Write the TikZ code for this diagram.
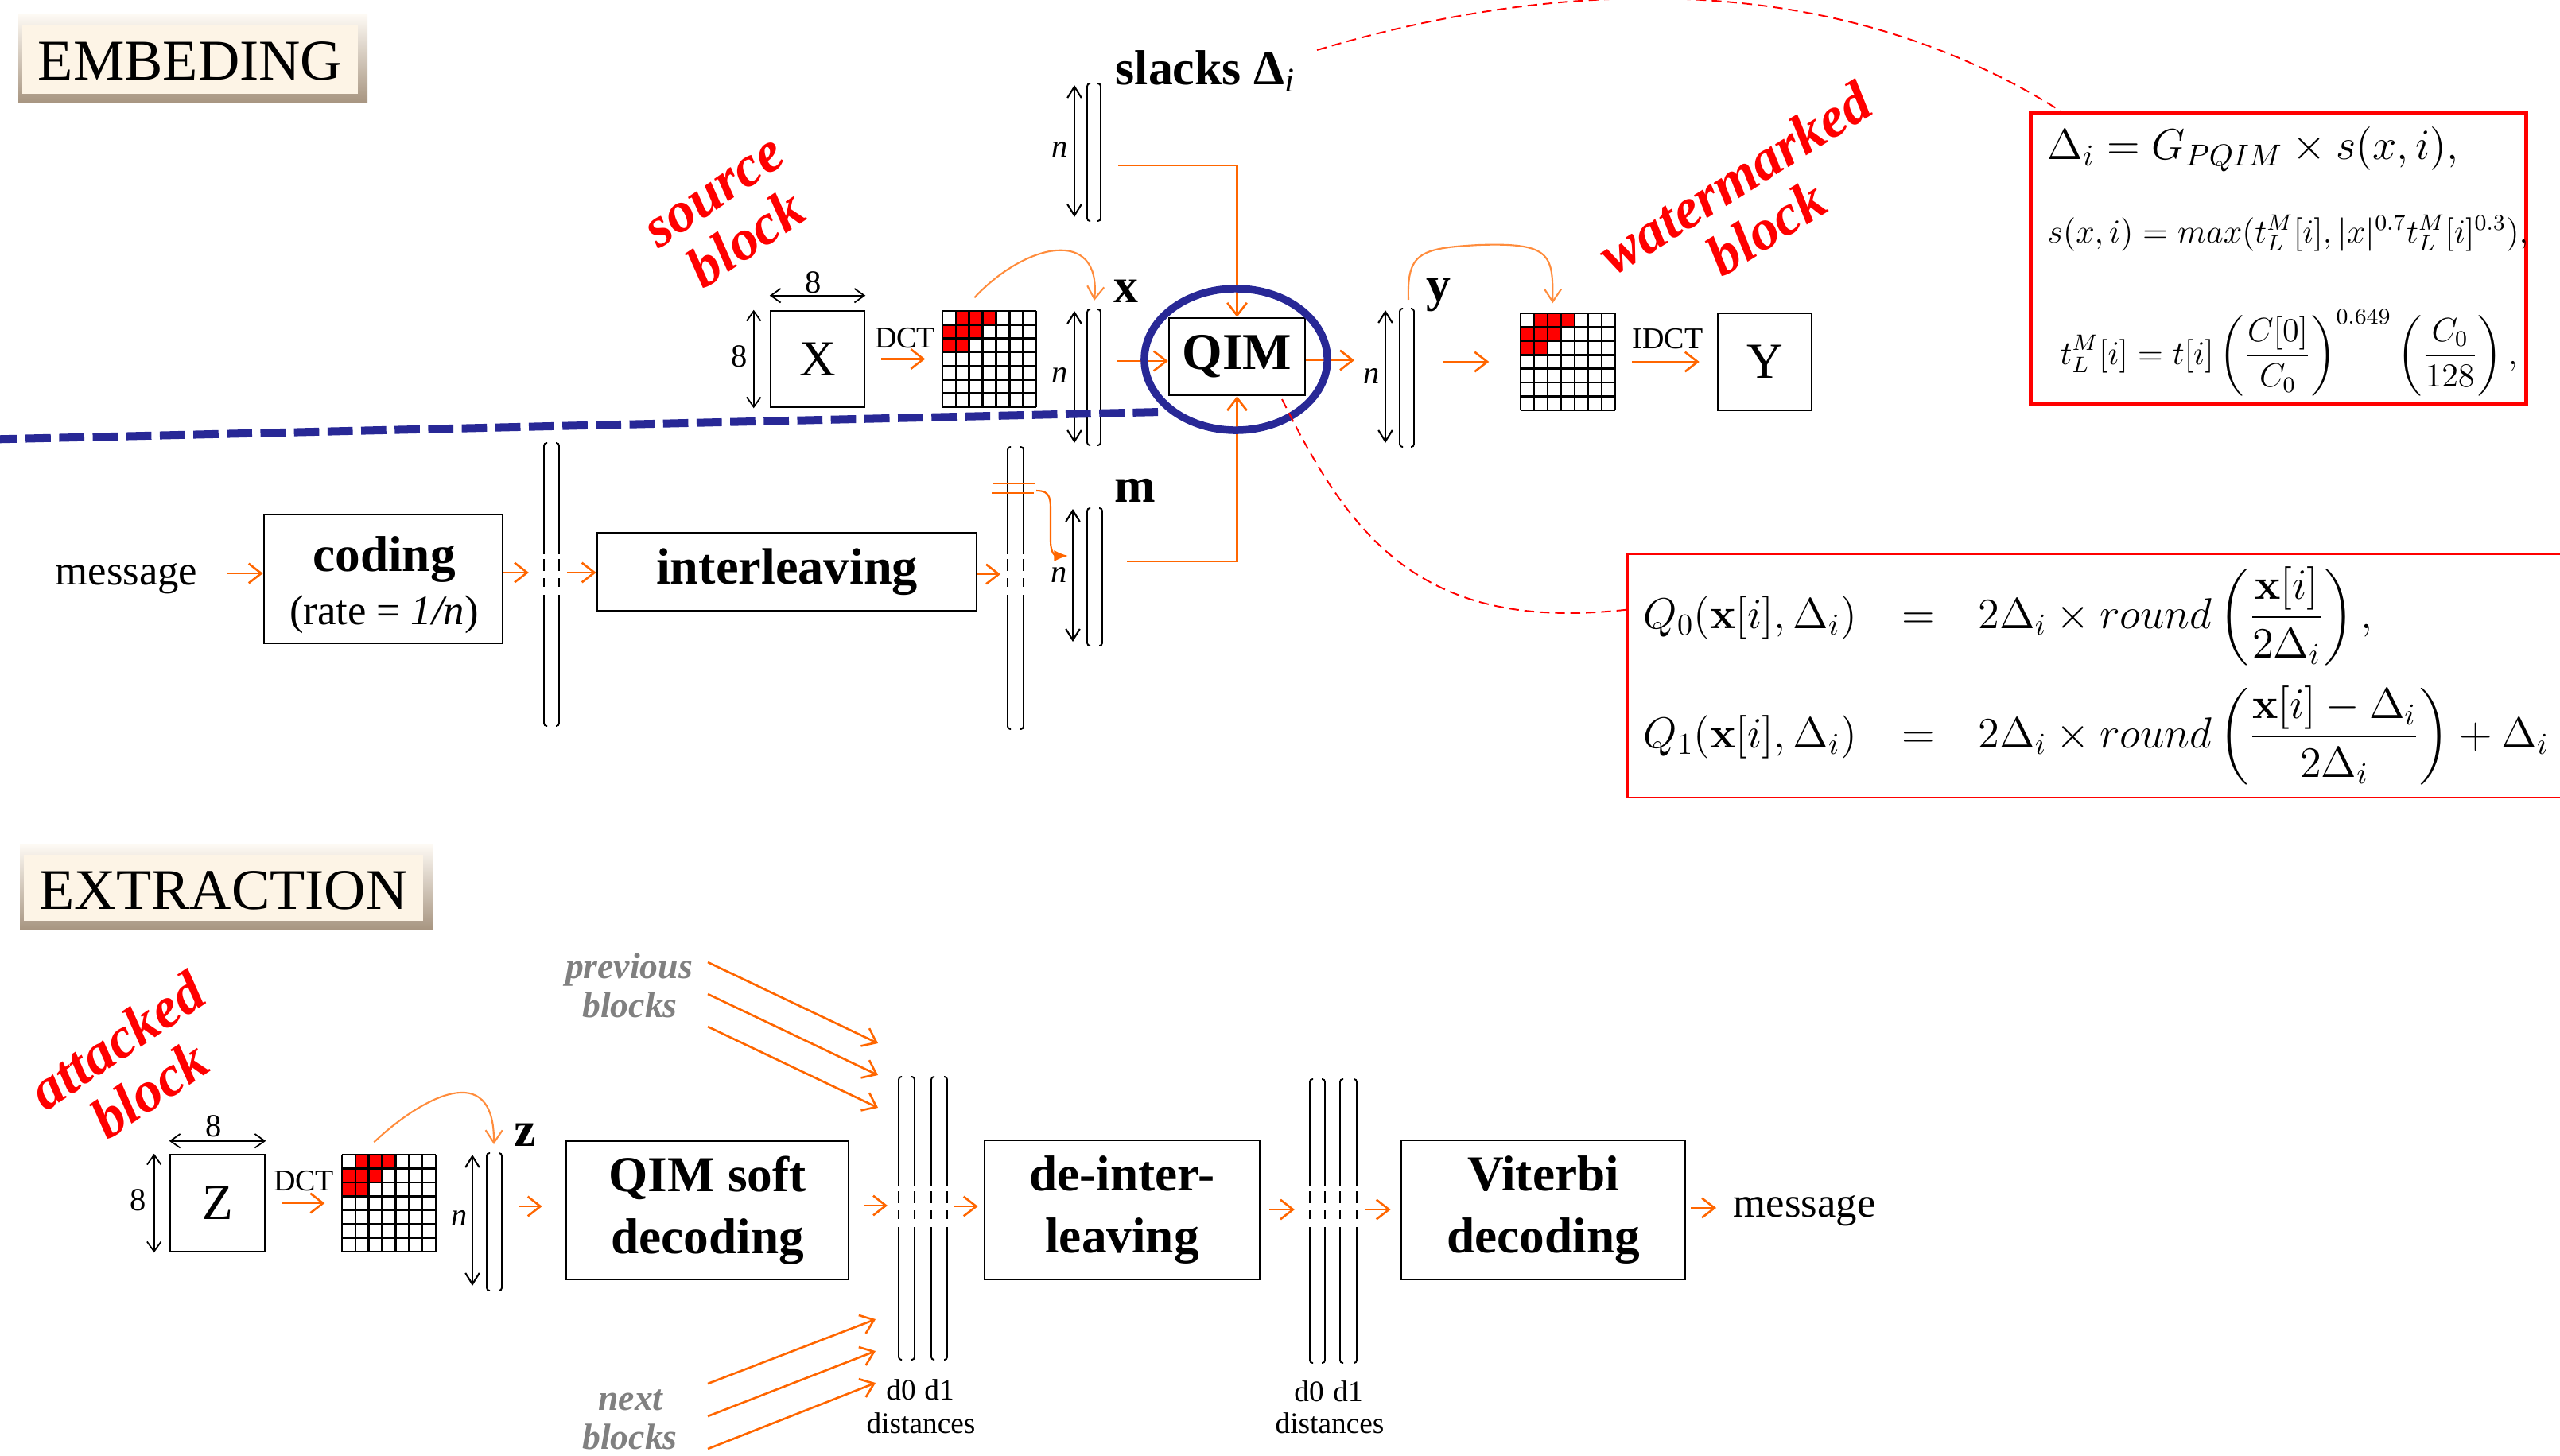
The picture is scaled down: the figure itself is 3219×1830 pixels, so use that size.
\RequirePackage{fix-cm}
\documentclass[tikz,border=0pt]{standalone}
\usepackage{amsmath}
\usepackage[no-math]{fontspec}
\setmainfont{Liberation Serif}
\usetikzlibrary{arrows.meta,fit,calc,shapes.geometric}
\definecolor{org}{RGB}{255,102,0}
\definecolor{lorg}{RGB}{255,140,60}
\definecolor{navyc}{RGB}{40,40,150}
\definecolor{beigec}{RGB}{253,244,230}
\definecolor{tanc}{RGB}{168,150,130}
\definecolor{gtxt}{RGB}{128,128,128}
\newcommand\fsz[2]{\fontsize{#1}{#2}\selectfont}
\tikzset{
  oarr/.style={draw=org, line width=0.75pt, -{Straight Barb[length=4.5pt,width=7pt]}},
  carr/.style={draw=lorg, line width=0.6pt, -{Straight Barb[length=4.5pt,width=6pt]}},
  dimarr/.style={draw=black, line width=0.5pt, {Straight Barb[length=3.5pt,width=5pt]}-{Straight Barb[length=3.5pt,width=5pt]}},
  narr/.style={draw=black, line width=0.6pt, {Straight Barb[length=4pt,width=5pt]}-{Straight Barb[length=4pt,width=5pt]}},
  blk/.style={draw=black, line width=0.7pt, inner sep=0pt},
  bkt/.style={draw=black, line width=0.55pt, rounded corners=1pt},
  gridl/.style={draw=black, line width=0.75pt},
  rdash/.style={draw=red, line width=0.55pt, dash pattern=on 3.5pt off 2pt},
  lbl/.style={inner sep=0pt},
  nlbl/.style={inner sep=0pt, font=\itshape\fsz{11.5}{13}},
  eightl/.style={inner sep=0pt, font=\fsz{11.5}{13}},
  dctl/.style={inner sep=0pt, font=\fsz{10.8}{12}},
  vecl/.style={inner sep=0pt, anchor=base, font=\bfseries\fsz{17.6}{20}},
  redl/.style={inner sep=0pt, align=center, text=red, font=\bfseries\itshape\fsz{20.5}{21}},
  procbox/.style={blk, align=center, font=\bfseries\fsz{18}{22.2}},
  blocksl/.style={inner sep=0pt, anchor=base, text=gtxt, font=\bfseries\itshape\fsz{13}{14}},
  distl/.style={inner sep=0pt, anchor=base, font=\fsz{10.6}{12}},
}
\newcommand\bktpair[4]{%
  \draw[bkt] ({#1+4},#3) -- (#1,#3) -- (#1,#4) -- ({#1+4},#4);
  \draw[bkt] ({#2-4},#3) -- (#2,#3) -- (#2,#4) -- ({#2-4},#4);}
\newcommand\bktgaps[2]{%
  \foreach \ga/\gb in {-26/-20,-5/4,15/25}{\draw[white, line width=1.8pt] (#1,{#2+(\ga)}) -- (#1,{#2+(\gb)});}}
\newcommand\dctgrid[5]{%
  \pgfmathsetmacro\dgw{(#4-#2)/7}%
  \pgfmathsetmacro\dgh{(#5-#3)/7}%
  \foreach \dgc/\dgr in {1/0,2/0,3/0,0/1,1/1,2/1,0/2,1/2}{%
    \fill[red] ({#2+\dgc*\dgw},{#3+\dgr*\dgh}) rectangle ({#2+(\dgc+1)*\dgw},{#3+(\dgr+1)*\dgh});}
  \foreach \dgi in {0,...,7}{%
    \draw[gridl] ({#2+\dgi*\dgw},#3) -- ({#2+\dgi*\dgw},#5);
    \draw[gridl] (#2,{#3+\dgi*\dgh}) -- (#4,{#3+\dgi*\dgh});}
  \node[fit={(#2,#3) (#4,#5)}, inner sep=0pt] (#1) {};}
\begin{document}
\begin{tikzpicture}[x=0.01cm,y=-0.01cm]
\useasboundingbox (0,0) rectangle (3219,1830);

% ---------- title boxes
\shade[top color=beigec!40!white, bottom color=tanc] (23,17) rectangle (462,128);
\fill[beigec] (28,31) rectangle (450,118);
\node[lbl, anchor=base, font=\fsz{20.6}{24}] (embed) at (239,100) {EMBEDING};
\shade[top color=beigec!40!white, bottom color=tanc] (25,1061) rectangle (544,1168);
\fill[beigec] (30,1075) rectangle (532,1158);
\node[lbl, anchor=base, font=\fsz{20.6}{24}] (extract) at (281,1143) {EXTRACTION};

% ---------- red labels
\node[redl, rotate=34] (srcb) at (921,275) {source\\block};
\node[redl, rotate=32] (wmb) at (2201,255) {watermarked\\block};
\node[redl, rotate=34] (attb) at (167,1339) {attacked\\block};

% ---------- source block X
\node[blk, minimum width=1.18cm, minimum height=1.21cm, font=\fsz{18}{20}] (X) at (1028,451.5) {X};
\draw[dimarr] ([xshift=-0.2cm]X.north west) -- ([xshift=-0.2cm]X.south west);
\node[eightl] (x8l) at (930,448) {8};
\draw[dimarr] ([yshift=0.18cm]X.north west) -- ([yshift=0.18cm]X.north east);
\node[eightl] (x8t) at (1023,355) {8};
\dctgrid{g1}{1185}{391}{1303}{512}
\draw[oarr, shorten <=0.2cm, shorten >=0.21cm] (X) -- (g1);
\node[dctl] (dct1) at (1138,425) {DCT};

% ---------- slacks vector
\draw[narr] (1351,107) -- (1351,273);
\bktpair{1367}{1384}{105}{278}
\node[nlbl] (sn) at (1333,188) {n};
\node[vecl, anchor=base west] (slk) at (1402,106) {slacks Δ\textsubscript{\normalfont\itshape i}};
\coordinate (svout) at (1406,208);

% ---------- x vector
\draw[narr] (1351,391) -- (1351,557);
\bktpair{1367}{1384}{389}{560}
\node[nlbl] (xn) at (1333,472) {n};
\node[vecl] (xl) at (1416,380) {x};
\coordinate (xvin) at (1376,378);
\coordinate (xvout) at (1404,454);
\draw[carr] ($(g1.north west)+(41,-16)$) .. controls (1290,305) and (1385,285) .. (xvin);

% ---------- QIM
\node[blk, minimum width=1.71cm, minimum height=0.97cm, font=\bfseries\fsz{18.5}{20}] (QIM) at (1555.5,448.5) {QIM};
\draw[oarr] (svout) -| (QIM.north);
\draw[oarr] (xvout) -- (xvout -| QIM.west);

% ---------- m vector
\draw[narr] (1349,640) -- (1349,807);
\bktpair{1367}{1386}{639}{812}
\node[nlbl] (mn) at (1332,723) {n};
\node[vecl] (ml) at (1427,631) {m};
\coordinate (mvout) at (1417,706);
\coordinate (mvin) at (1343,699);
\draw[oarr] (mvout) -| (QIM.south);

% ---------- y vector
\coordinate (yvin) at (1703,453);
\draw[oarr] (QIM.east |- yvin) -- (yvin);
\draw[narr] (1742,390) -- (1742,557);
\bktpair{1760}{1778}{388}{562}
\node[nlbl] (yn) at (1725,473) {n};
\node[vecl] (yl) at (1809,378) {y};
\coordinate (yvout) at (1815,455);
\coordinate (yvtop) at (1771,377);
\dctgrid{g2}{1912}{394}{2031}{516}
\draw[oarr, shorten >=0.39cm] (yvout) -- (yvout -| g2.west);
\draw[carr] (yvtop) .. controls (1769,318) and (1785,312) .. (1860,308) .. controls (1950,305) and (1953,320) .. ($(g2.north west)+(41,-12)$);
\node[blk, minimum width=1.18cm, minimum height=1.22cm, font=\fsz{18}{20}] (Y) at (2219,455) {Y};
\draw[oarr, shorten <=0.2cm, shorten >=0.22cm] (g2) -- (Y);
\node[dctl] (idct) at (2097,426) {IDCT};

% ---------- coding / interleaving
\node[lbl, anchor=base west, font=\fsz{15}{17}] (msg1) at (69,735) {message};
\node[blk, minimum width=3.00cm, minimum height=1.62cm] (coding) at (482,728) {};
\node[lbl, anchor=base, font=\bfseries\fsz{18}{20}] (codingt) at (483,718) {coding};
\node[lbl, anchor=base, font=\fsz{15}{17}] (ratet) at (483,785) {(rate = \textit{1/n})};
\coordinate (c1) at (285,721);
\draw[oarr] (c1) -- (c1 -| coding.west);
\bktpair{684}{703}{557}{913}
\bktgaps{684}{723}\bktgaps{703}{723}
\coordinate (b1in) at (665,720);
\coordinate (b1out) at (713,720);
\draw[oarr] (coding.east |- b1in) -- (b1in);
\node[blk, minimum width=4.77cm, minimum height=0.98cm, font=\bfseries\fsz{18.3}{20}] (inter) at (989.5,719) {interleaving};
\draw[oarr] (b1out) -- (b1out -| inter.west);
\coordinate (b2in) at (1258,722);
\draw[oarr] (inter.east |- b2in) -- (b2in);
\bktpair{1267}{1287}{562}{917}
\bktgaps{1267}{723}\bktgaps{1287}{723}
\draw[org, line width=0.75pt] (1249,608) -- (1302,608);
\draw[org, line width=0.75pt] (1247,620) -- (1300,620);
\coordinate (eqs) at (1303,617);
\draw[org, line width=0.6pt, -{Latex[length=5pt,width=4pt]}] (eqs) .. controls (1322,617) and (1321,628) .. (1321,648) -- (1321,680) .. controls (1321,697) and (1328,699) .. (mvin);

% ---------- blue separator and ring
\coordinate (bl0) at (-10,552.5);
\coordinate (bl1) at (1460,518);
\draw[navyc, line width=2.85pt, dash pattern=on 9pt off 3pt] (bl0) -- (bl1);
\node[draw=navyc, line width=2.7pt, ellipse, minimum width=2.30cm, minimum height=1.78cm, inner sep=0pt] (ring) at (1554,452) {};

% ---------- formula box 1
\node[draw=red, line width=1.4pt, minimum width=6.22cm, minimum height=3.64cm, inner sep=0pt] (eqb1) at (2865,325) {};
\node[lbl, anchor=base west, font=\fsz{15.5}{18}] (f1) at (2574,200) {$\Delta_i = G_{PQIM}\times s(x,i),$};
\node[lbl, anchor=base west, font=\fsz{12}{14}] (f2) at (2574,305) {$s(x,i) = max(t_L^M[i], |x|^{0.7} t_L^M[i]^{0.3}),$};
\node[lbl, anchor=base west, font=\fsz{12}{14}] (f3) at (2590,458) {$\displaystyle t_L^M[i] = t[i]\left(\frac{C[0]}{C_0}\right)^{0.649}\left(\frac{C_0}{128}\right),$};

% ---------- formula box 2
\node[draw=red, line width=0.7pt, minimum width=12.53cm, minimum height=3.06cm, inner sep=0pt] (eqb2) at (2673.5,850) {};
\node[lbl, anchor=base west, font=\fsz{15.5}{18}] (q0l) at (2066,790) {$Q_0(\mathbf{x}[i],\Delta_i)$};
\node[lbl, anchor=base, font=\fsz{15.5}{18}] (q0e) at (2412,790) {$=$};
\node[lbl, anchor=base west, font=\fsz{15.5}{18}] (q0r) at (2487,790) {$2\Delta_i\times round\left(\dfrac{\mathbf{x}[i]}{2\Delta_i}\right),$};
\node[lbl, anchor=base west, font=\fsz{15.5}{18}] (q1l) at (2066,940) {$Q_1(\mathbf{x}[i],\Delta_i)$};
\node[lbl, anchor=base, font=\fsz{15.5}{18}] (q1e) at (2412,940) {$=$};
\node[lbl, anchor=base west, font=\fsz{15.5}{18}] (q1r) at (2487,940) {$2\Delta_i\times round\left(\dfrac{\mathbf{x}[i]-\Delta_i}{2\Delta_i}\right)+\Delta_i$};

% ---------- red dashed links
\coordinate (rd1s) at (1656,63);
\draw[rdash] (rd1s) .. controls (1950,-25) and (2300,-45) .. ($(eqb1.north west)+(41,0)$);
\coordinate (rd2s) at (1612,502);
\draw[rdash] (rd2s) .. controls (1700,680) and (1790,795) .. ($(eqb2.north west)+(0,71)$);

% ---------- extraction
\node[blk, minimum width=1.19cm, minimum height=1.22cm, font=\fsz{18}{20}] (Z) at (273.5,1513) {Z};
\draw[dimarr] ([xshift=-0.19cm]Z.north west) -- ([xshift=-0.19cm]Z.south west);
\node[eightl] (z8l) at (174,1509) {8};
\draw[dimarr] ([yshift=0.16cm]Z.north west) -- ([yshift=0.16cm]Z.north east);
\node[eightl] (z8t) at (269,1416) {8};
\dctgrid{g3}{430}{1452}{548}{1574}
\draw[oarr, shorten <=0.2cm, shorten >=0.21cm] (Z) -- (g3);
\node[dctl] (dct3) at (382,1485) {DCT};
\draw[narr] (594,1452) -- (594,1617);
\bktpair{612}{631}{1450}{1623}
\node[nlbl] (zn) at (578,1532) {n};
\node[vecl] (zl) at (660,1441) {z};
\coordinate (zvin) at (621,1439);
\draw[carr] ($(g3.north west)+(41,-15)$) .. controls (530,1380) and (622,1330) .. (zvin);
\coordinate (zvout) at (652,1517);
\node[procbox, minimum width=3.55cm, minimum height=1.74cm] (qsd) at (889.5,1522) {QIM soft\\decoding};
\draw[oarr, shorten >=0.29cm] (zvout) -- (zvout -| qsd.west);

\bktpair{1130}{1150}{1354}{1710}
\bktpair{1171}{1191}{1354}{1710}
\bktgaps{1130}{1518}\bktgaps{1150}{1518}\bktgaps{1171}{1518}\bktgaps{1191}{1518}
\coordinate (e1in) at (1116,1516);
\coordinate (e1out) at (1199,1517);
\draw[oarr, shorten <=0.18cm] (qsd.east |- e1in) -- (e1in);
\node[procbox, minimum width=3.46cm, minimum height=1.75cm] (dil) at (1411,1521.5) {de-inter-\\leaving};
\draw[oarr, shorten >=0.07cm] (e1out) -- (e1out -| dil.west);

\bktpair{1647}{1666}{1357}{1714}
\bktpair{1685}{1706}{1357}{1714}
\bktgaps{1647}{1518}\bktgaps{1666}{1518}\bktgaps{1685}{1518}\bktgaps{1706}{1518}
\coordinate (e2in) at (1628,1521);
\coordinate (e2out) at (1717,1521);
\draw[oarr, shorten <=0.11cm] (dil.east |- e2in) -- (e2in);
\node[procbox, minimum width=3.57cm, minimum height=1.75cm] (vit) at (1940.5,1521.5) {Viterbi\\decoding};
\draw[oarr, shorten >=0.12cm] (e2out) -- (e2out -| vit.west);
\node[lbl, anchor=base west, font=\fsz{15}{17}] (msg2) at (2179,1530) {message};
\coordinate (vout) at (2158,1519);
\draw[oarr, shorten <=0.06cm] (vit.east |- vout) -- (vout);

\node[distl] (d0a) at (1133,1760) {d0};
\node[distl] (d1a) at (1181,1760) {d1};
\node[distl] (dista) at (1158,1802) {distances};
\node[distl] (d0b) at (1646,1762) {d0};
\node[distl] (d1b) at (1695,1762) {d1};
\node[distl] (distb) at (1672,1802) {distances};

\node[blocksl] (prev1) at (791,1230) {previous};
\node[blocksl] (prev2) at (792,1279) {blocks};
\node[blocksl] (next1) at (793,1773) {next};
\node[blocksl] (next2) at (792,1822) {blocks};
\coordinate (ps1) at (890,1210); \coordinate (pe1) at (1104,1312);
\coordinate (ps2) at (890,1250); \coordinate (pe2) at (1104,1352);
\coordinate (ps3) at (890,1291); \coordinate (pe3) at (1104,1393);
\coordinate (ns1) at (890,1740); \coordinate (ne1) at (1101,1659);
\coordinate (ns2) at (890,1781); \coordinate (ne2) at (1101,1699);
\coordinate (ns3) at (890,1822); \coordinate (ne3) at (1101,1739);
\foreach \ca/\cb in {ps1/pe1,ps2/pe2,ps3/pe3,ns1/ne1,ns2/ne2,ns3/ne3}{\draw[oarr] (\ca) -- (\cb);}
\end{tikzpicture}
\end{document}
